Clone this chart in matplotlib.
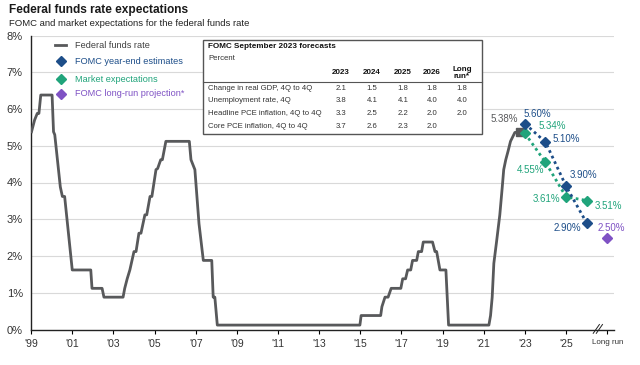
import matplotlib
matplotlib.use("Agg")
import matplotlib.pyplot as plt
from matplotlib.lines import Line2D
from matplotlib.patches import Rectangle

plt.rcParams['font.family'] = ['Liberation Sans', 'DejaVu Sans']

# Federal funds rate (x = chart year position, y = percent)
ffr_x = [1999.02, 1999.17, 1999.30, 1999.38, 1999.47, 2000.02, 2000.09, 2000.15,
         2000.42, 2000.52, 2000.63, 2001.00, 2001.90, 2001.96, 2002.45, 2002.54,
         2003.47, 2003.55, 2003.67, 2003.80, 2004.00, 2004.10, 2004.24, 2004.34,
         2004.53, 2004.62, 2004.78, 2004.87, 2005.07, 2005.15, 2005.30, 2005.38,
         2005.55, 2006.69, 2006.77, 2006.96, 2007.16, 2007.37, 2007.78, 2007.85,
         2007.93, 2008.05, 2014.98, 2015.04, 2015.99, 2016.05, 2016.20, 2016.35,
         2016.50, 2016.97, 2017.06, 2017.20, 2017.30, 2017.45, 2017.54, 2017.74,
         2017.82, 2017.98, 2018.06, 2018.51, 2018.63, 2018.71, 2018.87, 2019.16,
         2019.29, 2021.25, 2021.33, 2021.41, 2021.49, 2021.62, 2021.78, 2021.90,
         2021.97, 2022.07, 2022.18, 2022.30, 2022.51, 2022.75]
ffr_y = [5.38, 5.70, 5.88, 5.88, 6.38, 6.38, 5.38, 5.30,
         3.88, 3.62, 3.62, 1.62, 1.62, 1.12, 1.12, 0.88,
         0.88, 1.12, 1.38, 1.62, 2.12, 2.12, 2.62, 2.62,
         3.12, 3.12, 3.62, 3.62, 4.35, 4.38, 4.62, 4.62,
         5.12, 5.12, 4.62, 4.35, 2.88, 1.88, 1.88, 0.88,
         0.88, 0.12, 0.12, 0.38, 0.38, 0.62, 0.88, 0.88,
         1.12, 1.12, 1.38, 1.38, 1.62, 1.62, 1.88, 1.88,
         2.12, 2.12, 2.38, 2.38, 2.12, 2.12, 1.62, 1.62,
         0.12, 0.12, 0.38, 0.88, 1.80, 2.38, 3.12, 3.88,
         4.35, 4.62, 4.85, 5.12, 5.36, 5.38]

fc_years = [2023, 2024, 2025, 2026]
fomc_est = [5.60, 5.10, 3.90, 2.90]
market_exp = [5.34, 4.55, 3.61, 3.51]
longrun_x = 2027
longrun_val = 2.50

xtick_pos = list(range(1999, 2027, 2)) + [2027]
xtick_lab = ["'%02d" % (y % 100) for y in range(1999, 2027, 2)] + ['Long run']

tbl_cols = ['2023', '2024', '2025', '2026', 'Long\nrun*']
tbl_rows = ['Change in real GDP, 4Q to 4Q', 'Unemployment rate, 4Q',
            'Headline PCE inflation, 4Q to 4Q', 'Core PCE inflation, 4Q to 4Q']
tbl_vals = [['2.1', '1.5', '1.8', '1.8', '1.8'],
            ['3.8', '4.1', '4.1', '4.0', '4.0'],
            ['3.3', '2.5', '2.2', '2.0', '2.0'],
            ['3.7', '2.6', '2.3', '2.0', '']]

gray = '#58595b'
navy = '#1d4e89'
green = '#20a47b'
purple = '#7f52c4'

W, H = 640, 365
fig = plt.figure(figsize=(6.4, 3.65), dpi=100)


def px(x, y):
    return x / W, 1 - y / H


ax = fig.add_axes([31.1 / W, 35.5 / H, (614 - 31.1) / W, (329.5 - 35.5) / H])
ax.set_xlim(1999, 2027.33)
ax.set_ylim(0, 8)

for v in range(1, 9):
    ax.axhline(v, color='#d9d9d9', lw=0.8, zorder=0)

ax.plot(ffr_x, ffr_y, color=gray, lw=2, zorder=3)
ax.plot(ffr_x[-1], ffr_y[-1], marker='s', color=gray, ms=6, zorder=4)
ax.plot(fc_years, market_exp, ls=(0, (1, 1.2)), color=green, lw=2, zorder=4)
ax.plot(fc_years, market_exp, ls='none', marker='D', color=green, ms=5, zorder=5)
ax.plot(fc_years, fomc_est, ls=(0, (1, 1.2)), color=navy, lw=2, zorder=5)
ax.plot(fc_years, fomc_est, ls='none', marker='D', color=navy, ms=5, zorder=6)
ax.plot(longrun_x, longrun_val, ls='none', marker='D', color=purple, ms=5, zorder=6)

# value labels (offsets in pixels)
def lab(x, y, txt, dx, dy, col):
    ax.annotate(txt, (x, y), xytext=(dx, dy), textcoords='offset pixels',
                ha='center', va='center', fontsize=7, color=col, zorder=7)

lab(ffr_x[-1], ffr_y[-1], '5.38%', -15, 13, gray)
fomc_off = [(12, 10), (21, 3), (17, 11), (-19, -5)]
mkt_off = [(27, 7), (-15, -8), (-20, -2), (22, -5)]
for x, v, (dx, dy) in zip(fc_years, fomc_est, fomc_off):
    lab(x, v, '%.2f%%' % v, dx, dy, navy)
for x, v, (dx, dy) in zip(fc_years, market_exp, mkt_off):
    lab(x, v, '%.2f%%' % v, dx, dy, green)
lab(longrun_x, longrun_val, '%.2f%%' % longrun_val, 4, 10, purple)

ax.set_yticks(range(0, 9))
ax.set_yticklabels(['%d%%' % v for v in range(0, 9)], fontsize=8, color='#333333')
ax.tick_params(axis='y', length=0, pad=6)
ax.set_xticks(xtick_pos)
ax.set_xticklabels(xtick_lab, fontsize=7.5, color='#333333')
ax.get_xticklabels()[-1].set_fontsize(5.8)
ax.tick_params(axis='x', length=3, direction='out', pad=4)
for s in ['top', 'right']:
    ax.spines[s].set_visible(False)
for s in ['left', 'bottom']:
    ax.spines[s].set_color('#222222')
    ax.spines[s].set_linewidth(1)

# axis break marks
tr = ax.get_xaxis_transform()
for off in (0.0, 0.15):
    ax.plot([2026.32 + off, 2026.62 + off], [-0.013, 0.017], color='#222222',
            lw=0.7, transform=tr, clip_on=False)

# title
fig.text(*px(9, 10), 'Federal funds rate expectations', fontsize=8.6,
         fontweight='bold', color='#1a1a1a', va='center')
fig.text(*px(9, 24), 'FOMC and market expectations for the federal funds rate',
         fontsize=6.8, color='#222222', va='center')

# legend
leg_items = [('Federal funds rate', gray, None),
             ('FOMC year-end estimates', navy, 'D'),
             ('Market expectations', green, 'D'),
             ('FOMC long-run projection*', purple, 'D')]
leg_y = [45, 61, 79, 94]
for (txt, col, mk), y in zip(leg_items, leg_y):
    if mk is None:
        fig.add_artist(Line2D([55 / W, 66 / W], [1 - y / H] * 2, color=gray, lw=2))
        tcol = '#404040'
    else:
        fig.add_artist(Line2D([60.5 / W], [1 - y / H], marker=mk, color=col, ms=5))
        tcol = col
    fig.text(*px(75, y), txt, fontsize=6.6, color=tcol, va='center')

# forecast table
x0, y0, x1, y1 = 203, 40, 482, 134
fig.add_artist(Rectangle(px(x0, y1), (x1 - x0) / W, (y1 - y0) / H,
                         transform=fig.transFigure, facecolor='white',
                         edgecolor='#555555', lw=1, zorder=8))
fig.text(*px(208, 47), 'FOMC September 2023 forecasts', fontsize=5.9,
         fontweight='bold', color='#111111', va='center', zorder=9)
fig.text(*px(208, 59), 'Percent', fontsize=5.6, color='#333333', va='center', zorder=9)
col_x = [341, 372, 403, 432, 462]
for cx, c in zip(col_x, tbl_cols):
    fig.text(*px(cx, 73), c, fontsize=5.8, fontweight='bold', color='#111111',
             ha='center', va='center', zorder=9, linespacing=1.1)
fig.add_artist(Line2D([x0 / W, x1 / W], [1 - 82 / H] * 2, color='#555555', lw=0.8, zorder=9))
row_y = [89, 101, 113.5, 126.5]
for ry, name, vals in zip(row_y, tbl_rows, tbl_vals):
    fig.text(*px(208, ry), name, fontsize=5.6, color='#333333', va='center', zorder=9)
    for cx, v in zip(col_x, vals):
        fig.text(*px(cx, ry), v, fontsize=5.6, color='#333333', ha='center',
                 va='center', zorder=9)

fig.savefig('out.png', dpi=100)
